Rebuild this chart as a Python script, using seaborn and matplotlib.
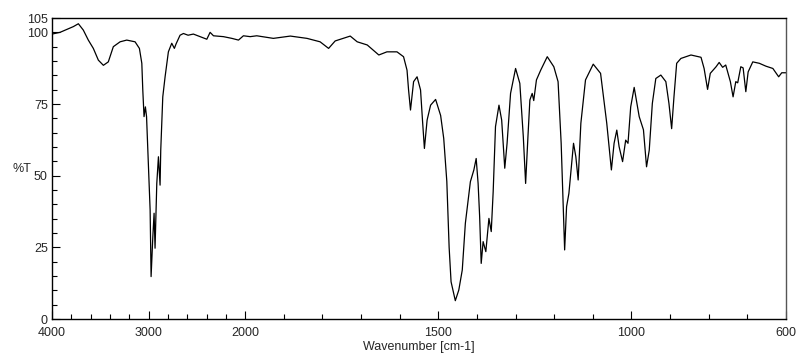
import numpy as np
import pandas as pd
import matplotlib
matplotlib.use("Agg")
import matplotlib.pyplot as plt
import seaborn as sns

# IR spectrum (wavenumber in cm-1, transmittance in %)
wavenumber = [
    4000, 3917, 3848, 3779, 3727, 3676, 3624, 3572, 3520, 3468, 3417, 3365,
    3295, 3226, 3140, 3095, 3070, 3060, 3047, 3033, 3021, 3002, 2984, 2974,
    2956, 2943, 2933, 2915, 2898, 2881, 2874, 2853, 2829, 2795, 2760, 2733,
    2715, 2674, 2639, 2591, 2536, 2466, 2397, 2363, 2328, 2225, 2138, 2069,
    2018, 1987, 1970, 1927, 1883, 1840, 1806, 1784, 1767, 1728, 1710, 1684,
    1654, 1633, 1607, 1590, 1581, 1577, 1572, 1564, 1555, 1546, 1541, 1536,
    1529, 1520, 1507, 1494, 1486, 1478, 1472, 1467, 1456, 1447, 1438, 1430,
    1417, 1408, 1402, 1397, 1393, 1389, 1384, 1377, 1369, 1363, 1358, 1352,
    1343, 1336, 1328, 1322, 1313, 1300, 1289, 1280, 1274, 1268, 1263, 1257,
    1253, 1246, 1235, 1218, 1201, 1190, 1182, 1173, 1168, 1162, 1150, 1144,
    1138, 1131, 1119, 1099, 1080, 1064, 1052, 1045, 1038, 1032, 1023, 1015,
    1009, 1002, 993, 980, 969, 961, 954, 946, 937, 924, 911, 903, 896, 890,
    883, 872, 846, 820, 812, 803, 796, 781, 773, 764, 756, 744, 737, 730,
    725, 717, 711, 704, 698, 686, 669, 652, 634, 619, 611, 600,
]
transmittance = [
    99.4, 100.0, 101.0, 102.0, 103.0, 100.8, 97.3, 94.4, 90.3, 88.5, 89.7, 95.0,
    96.7, 97.3, 96.7, 94.4, 89.2, 79.9, 70.6, 74.0, 70.6, 54.3, 38.0, 14.8,
    28.7, 36.9, 24.7, 47.3, 56.6, 46.7, 58.9, 77.5, 84.5, 93.2, 96.2, 94.4,
    96.0, 99.0, 99.6, 99.0, 99.4, 98.5, 97.6, 100.0, 98.8, 98.5, 97.9, 97.3,
    98.8, 98.5, 98.8, 97.9, 98.7, 97.9, 96.7, 94.4, 97.0, 98.7, 96.7, 95.6,
    92.1, 93.2, 93.2, 91.5, 86.8, 79.9, 72.9, 82.8, 84.5, 79.9, 69.4, 59.5,
    69.4, 74.6, 76.6, 71.0, 63.0, 48.0, 25.0, 13.0, 6.4, 10.1, 17.1, 33.4,
    47.9, 52.0, 56.0, 47.3, 35.7, 19.4, 27.0, 23.5, 35.1, 30.5, 44.4, 67.1,
    74.6, 69.4, 52.6, 61.3, 78.7, 87.4, 82.2, 63.6, 47.3, 63.6, 76.4, 78.7,
    76.2, 83.4, 86.8, 91.5, 88.0, 82.8, 61.3, 24.1, 39.2, 43.8, 61.3, 56.6,
    48.5, 68.3, 83.4, 88.9, 85.7, 68.3, 52.0, 61.3, 65.9, 60.1, 54.9, 62.4,
    61.3, 74.0, 80.8, 70.6, 66.0, 53.1, 58.9, 75.2, 83.9, 85.1, 82.8, 75.2, 66.4, 77.5,
    89.2, 90.9, 92.1, 91.3, 87.4, 80.1, 85.7, 88.0, 89.5, 87.8, 88.6, 82.8, 77.5, 82.8,
    82.4, 88.0, 87.6, 79.3, 86.2, 89.7, 89.2, 88.2, 87.4, 84.5, 85.9, 85.9,
]

major_x = [4000, 3000, 2000, 1500, 1000, 600]
minor_x = [3800, 3600, 3400, 3200, 2800, 2600, 2400, 2200,
           1900, 1800, 1700, 1600, 1400, 1300, 1200, 1100, 900, 800, 700]
major_y = [0, 25, 50, 75, 100, 105]


# spectrometer axis: 4000-2000 compressed 4x relative to 2000-600
def fwd(w):
    w = np.asarray(w, dtype=float)
    return np.where(w >= 2000, 500 + (w - 2000) / 4.0, w - 1500)


def inv(p):
    p = np.asarray(p, dtype=float)
    return np.where(p >= 500, 2000 + (p - 500) * 4.0, p + 1500)


sns.set_style("ticks")
plt.rcParams['font.family'] = ['Liberation Sans', 'DejaVu Sans']

df = pd.DataFrame({'wavenumber': wavenumber, 'T': transmittance})

fig = plt.figure(figsize=(8.0, 3.61), dpi=100)
ax = fig.add_axes([0.065, 0.1163, 0.9175, 0.8338])

sns.lineplot(data=df, x='wavenumber', y='T', estimator=None, color='black',
             linewidth=0.9, ax=ax)

ax.set_xscale('function', functions=(fwd, inv))
ax.set_xlim(4000, 600)
ax.set_ylim(0, 105)

ax.set_xticks(major_x)
ax.set_xticklabels([str(v) for v in major_x])
ax.set_xticks(minor_x, minor=True)
ax.set_yticks(major_y)
ax.set_yticklabels([str(v) for v in major_y])
ax.set_yticks(np.arange(5, 100, 5), minor=True)

ax.tick_params(axis='both', which='major', direction='in', length=6, width=0.8,
               labelsize=9, pad=3, color='black')
ax.tick_params(axis='both', which='minor', direction='in', length=3.5, width=0.8,
               color='black')
ax.tick_params(axis='x', which='major', pad=6)

for side in ['left', 'bottom', 'top']:
    ax.spines[side].set_color('black')
    ax.spines[side].set_linewidth(1.0)
ax.spines['right'].set_visible(True)
ax.spines['right'].set_color('#555555')
ax.spines['right'].set_linewidth(1.0)

ax.set_xlabel('Wavenumber [cm-1]', fontsize=9, labelpad=1)
ax.set_ylabel('%T', fontsize=9, rotation=0, ha='center', va='center')
ax.yaxis.set_label_coords(-0.041, 0.5)

fig.savefig('out.png', dpi=100)
